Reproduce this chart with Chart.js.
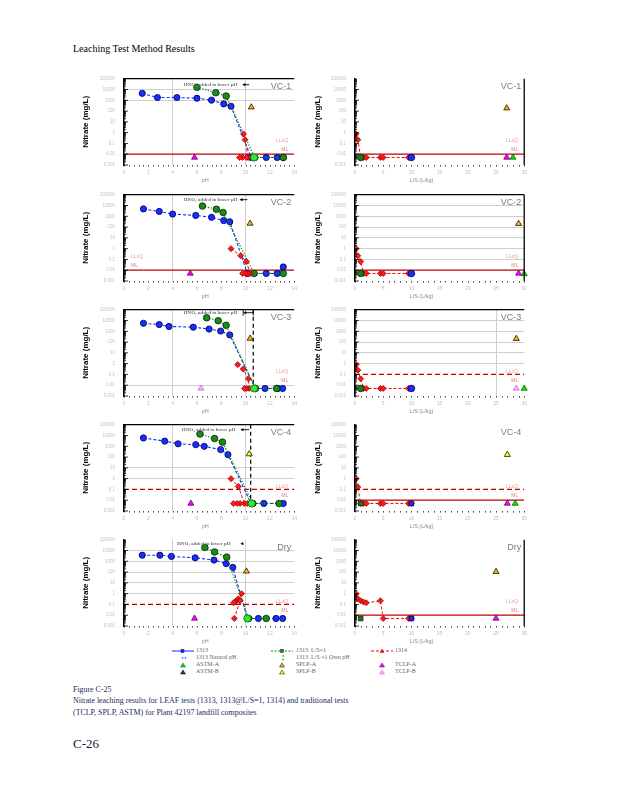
<!DOCTYPE html>
<html><head><meta charset="utf-8">
<script src="https://cdn.jsdelivr.net/npm/chart.js@4.4.1/dist/chart.umd.min.js"></script>
<style>
body{margin:0;background:#fff;width:618px;height:800px;position:relative;overflow:hidden;font-family:"Liberation Serif","Times New Roman",serif}
canvas{position:absolute}
.t{position:absolute;white-space:nowrap}
.lg{position:absolute;white-space:nowrap;font-size:6px;line-height:7px;color:#666}
.lm{position:absolute}
.cap{position:absolute;left:73px;white-space:nowrap;font-size:8.5px;line-height:11px;color:#1c2b5c;transform-origin:0 50%}
</style></head><body>
<div class="t" style="left:73px;top:43px;font-size:10px;color:#000">Leaching Test Method Results</div>

<!-- legend -->
<svg class="lm" style="left:172px;top:648px" width="22" height="6"><line x1="0" y1="3" x2="22" y2="3" stroke="#1030ff" stroke-width="1"/><rect x="9" y="1.5" width="3" height="3" fill="#1030ff" stroke="#000060" stroke-width="0.5"/></svg>
<div class="lg" style="left:196px;top:647px">1313</div>
<svg class="lm" style="left:271px;top:648px" width="22" height="6"><line x1="0" y1="3" x2="22" y2="3" stroke="#118811" stroke-width="1" stroke-dasharray="2,1.5"/><rect x="9.5" y="1.5" width="3" height="3" fill="#1a8a1a" stroke="#003000" stroke-width="0.5"/></svg>
<div class="lg" style="left:296px;top:647px">1313&nbsp; L/S=1</div>
<svg class="lm" style="left:371px;top:648px" width="22" height="6"><line x1="0" y1="3" x2="22" y2="3" stroke="#ff0000" stroke-width="1" stroke-dasharray="3,2"/><polygon points="11,1 13,4.5 9,4.5" fill="#ff1a1a" stroke="#900" stroke-width="0.4"/></svg>
<div class="lg" style="left:395px;top:647px">1314</div>

<svg class="lm" style="left:181px;top:655px" width="6" height="6"><circle cx="1.5" cy="3" r="0.8" fill="#1030ff"/><circle cx="4.5" cy="3" r="0.8" fill="#1030ff"/></svg>
<div class="lg" style="left:196px;top:654px">1313 Natural pH</div>
<svg class="lm" style="left:280px;top:654px" width="6" height="8"><circle cx="3" cy="2" r="0.8" fill="#118811"/><circle cx="3" cy="5.5" r="0.8" fill="#118811"/></svg>
<div class="lg" style="left:296px;top:654px">1313&nbsp; L/S =1 Own pH</div>

<svg class="lm" style="left:180px;top:662px" width="6" height="6"><polygon points="3,1 5.5,5 0.5,5" fill="#00e000" stroke="#063" stroke-width="0.5"/></svg>
<div class="lg" style="left:196px;top:661px">ASTM-A</div>
<svg class="lm" style="left:279px;top:662px" width="6" height="6"><polygon points="3,1 5.5,5 0.5,5" fill="#ffb000" stroke="#000" stroke-width="0.5"/></svg>
<div class="lg" style="left:296px;top:661px">SPLP-A</div>
<svg class="lm" style="left:379px;top:662px" width="6" height="6"><polygon points="3,1 5.5,5 0.5,5" fill="#ff00ff" stroke="#600060" stroke-width="0.5"/></svg>
<div class="lg" style="left:395px;top:661px">TCLP-A</div>

<svg class="lm" style="left:180px;top:669px" width="6" height="6"><polygon points="3,1 5.5,5 0.5,5" fill="#0a5a0a" stroke="#000" stroke-width="0.5"/></svg>
<div class="lg" style="left:196px;top:668px">ASTM-B</div>
<svg class="lm" style="left:279px;top:669px" width="6" height="6"><polygon points="3,1 5.5,5 0.5,5" fill="#ffff00" stroke="#000" stroke-width="0.5"/></svg>
<div class="lg" style="left:296px;top:668px">SPLP-B</div>
<svg class="lm" style="left:379px;top:669px" width="6" height="6"><polygon points="3,1 5.5,5 0.5,5" fill="#ffa0ff" stroke="#c070c0" stroke-width="0.5"/></svg>
<div class="lg" style="left:395px;top:668px">TCLP-B</div>

<div class="cap" id="cap1" style="top:684px">Figure C-25</div>
<div class="cap" id="cap2" style="top:695px">Nitrate leaching results for LEAF tests (1313, 1313@L/S=1, 1314) and traditional tests</div>
<div class="cap" id="cap3" style="top:707px">(TCLP, SPLP, ASTM) for Plant 42197 landfill composites</div>
<div class="t" style="left:73px;top:736px;font-size:13px;color:#121c40">C-26</div>

<script>
// ---------------- DATA ----------------
const panelNames = ['VC-1', 'VC-2', 'VC-3', 'VC-4', 'Dry'];
const pHTicks = [0, 2, 4, 6, 8, 10, 12, 14];
const lsTicks = [0, 5, 10, 15, 20, 25, 30];
const yTickValues = [0.001, 0.01, 0.1, 1, 10, 100, 1000, 10000, 100000];
const yTickLabels = ['0.001', '0.01', '0.1', '1', '10', '100', '1000', '10000', '100000'];
const ls1314 = [0.2, 0.5, 1, 1.5, 2, 4.5, 5, 9.5, 10];
const ownPH_vsLS = [1, 0.005];
const naturalPH_vsLS = [10, 0.005];

// VC-1
const vc1_1313_pH  = [1.5, 2.75, 4.35, 6.0, 7.2, 8.2, 8.8, 10.45, 11.7, 12.6, 13.1];
const vc1_1313_no3 = [4400, 1800, 1800, 1550, 1030, 460, 280, 0.005, 0.005, 0.005, 0.005];
const vc1_ls1_pH   = [6.0, 7.55, 8.4, 10.75, 13.1];
const vc1_ls1_no3  = [16000, 5000, 2500, 0.005, 0.005];
const vc1_1314_pH  = [9.83, 9.96, 10.2, 10.07, 9.75, 9.5];
const vc1_1314_no3 = [0.76, 0.22, 0.005, 0.005, 0.005, 0.005];
const vc1_1314_ls_no3 = [0.76, 0.22, 0.005, 0.005, 0.005, 0.005, 0.005, 0.005, 0.005];
const vc1_ownPH_vsPH = [10.7, 0.005];
const vc1_splpA_vsPH = [10.47, 228];
const vc1_tclpA_vsPH = [5.8, 0.005];
const vc1_splpA_vsLS = [26.9, 186];
const vc1_tclpA_vsLS = [26.9, 0.005];
const vc1_astmA_vsLS = [28.0, 0.005];

// VC-2
const vc2_1313_pH  = [1.6, 2.9, 4.0, 5.9, 7.2, 8.2, 8.7, 10.15, 11.7, 12.6, 13.1];
const vc2_1313_no3 = [4800, 2800, 1600, 1200, 800, 400, 310, 0.005, 0.005, 0.005, 0.02];
const vc2_ls1_pH   = [6.45, 7.6, 8.15, 10.7, 13.1];
const vc2_ls1_no3  = [8900, 4500, 2250, 0.005, 0.005];
const vc2_1314_pH  = [8.8, 9.6, 10.07, 10.37, 10.2, 10.0, 9.75];
const vc2_1314_no3 = [1.0, 0.22, 0.063, 0.005, 0.005, 0.005, 0.005];
const vc2_1314_ls_no3 = [1.0, 0.22, 0.063, 0.005, 0.005, 0.005, 0.005, 0.005, 0.005];
const vc2_splpA_vsPH = [10.37, 215];
const vc2_tclpA_vsPH = [5.45, 0.005];
const vc2_splpA_vsLS = [29.0, 203];
const vc2_tclpA_vsLS = [29.0, 0.005];
const vc2_astmA_vsLS = [30.0, 0.0045];

// VC-3
const vc3_1313_pH  = [1.6, 2.9, 3.7, 5.7, 7.0, 7.95, 8.7, 10.8, 11.6, 12.65, 13.05];
const vc3_1313_no3 = [5500, 4200, 2800, 2400, 1600, 1050, 460, 0.005, 0.005, 0.005, 0.005];
const vc3_ls1_pH   = [6.8, 7.75, 8.4, 10.8, 12.55];
const vc3_ls1_no3  = [17800, 9500, 3600, 0.005, 0.005];
const vc3_1314_pH  = [9.35, 9.8, 10.23, 10.3, 10.07, 9.9];
const vc3_1314_no3 = [0.81, 0.31, 0.039, 0.005, 0.005, 0.005];
const vc3_1314_ls_no3 = [0.81, 0.25, 0.039, 0.005, 0.005, 0.005, 0.005, 0.005, 0.005];
const vc3_ownPH_vsPH = [10.7, 0.005];
const vc3_splpA_vsPH = [10.37, 215];
const vc3_tclpB_vsPH = [6.33, 0.005];
const vc3_splpA_vsLS = [28.6, 203];
const vc3_tclpB_vsLS = [28.6, 0.005];
const vc3_astmA_vsLS = [30.0, 0.005];
const vc3_acidLimit_pH = 10.63;

// VC-4
const vc4_1313_pH  = [1.6, 3.35, 4.45, 5.9, 6.6, 7.95, 8.55, 10.45, 11.5, 13.1];
const vc4_1313_no3 = [5900, 3000, 1700, 1400, 990, 490, 165, 0.005, 0.005, 0.005];
const vc4_ls1_pH   = [6.25, 7.45, 8.1, 10.6, 12.75];
const vc4_ls1_no3  = [13600, 5200, 2400, 0.005, 0.005];
const vc4_1314_pH  = [8.8, 9.4, 9.9, 10.15, 9.55, 9.3, 9.0];
const vc4_1314_no3 = [1.0, 0.19, 0.005, 0.005, 0.005, 0.005, 0.005];
const vc4_1314_ls_no3 = [1.0, 0.17, 0.005, 0.005, 0.005, 0.005, 0.005, 0.005, 0.005];
const vc4_ownPH_vsPH = [10.5, 0.005];
const vc4_splpB_vsPH = [10.3, 190];
const vc4_tclpA_vsPH = [5.5, 0.005];
const vc4_splpB_vsLS = [27.0, 165];
const vc4_tclpA_vsLS = [27.0, 0.005];
const vc4_astmA_vsLS = [28.4, 0.005];
const vc4_acidLimit_pH = 10.42;

// Dry
const dry_1313_pH  = [1.5, 2.95, 3.9, 5.85, 7.4, 8.4, 8.95, 10.15, 11.05, 12.5, 13.05];
const dry_1313_no3 = [3650, 3650, 2800, 2100, 1300, 610, 270, 0.005, 0.005, 0.005, 0.005];
const dry_ls1_pH   = [6.65, 7.45, 8.45, 10.25, 11.7];
const dry_ls1_no3  = [19000, 7300, 2400, 0.005, 0.005];
const dry_1314_pH  = [9.67, 9.4, 9.25, 9.12, 9.02, 9.55, 9.07];
const dry_1314_no3 = [1.0, 0.33, 0.22, 0.17, 0.14, 0.22, 0.005];
const dry_1314_ls_no3 = [1.0, 0.33, 0.22, 0.17, 0.14, 0.22, 0.005, 0.005, 0.005];
const dry_ownPH_vsPH = [10.15, 0.005];
const dry_splpA_vsPH = [10.07, 117];
const dry_tclpA_vsPH = [5.8, 0.005];
const dry_splpA_vsLS = [25.0, 108];
const dry_tclpA_vsLS = [25.0, 0.005];

const LLOQ = 0.1, ML = 0.01;

// ---------------- STYLES ----------------
Chart.defaults.font.family = '"Liberation Sans", Arial, sans-serif';
Chart.defaults.animation = false;

const pts = (xs, ys) => xs.map((x, i) => ({x, y: ys[i]}));
const pt = a => [{x: a[0], y: a[1]}];

const ST = {
  b1313: {borderColor:'#1030ff', pointBackgroundColor:'#1a2cff', pointBorderColor:'#000050', pointBorderWidth:0.8, pointRadius:3.1, pointStyle:'circle', showLine:true, borderDash:[3,2], borderWidth:1.1},
  g1313: {borderColor:'#118811', pointBackgroundColor:'#1a8a1a', pointBorderColor:'#002800', pointBorderWidth:0.8, pointRadius:3.3, pointStyle:'circle', showLine:true, borderDash:[1.2,1.6], borderWidth:1.3},
  r1314: {borderColor:'#ff0000', pointBackgroundColor:'#ff1a1a', pointBorderColor:'#8a0000', pointBorderWidth:0.7, pointRadius:3, pointStyle:'rectRot', showLine:true, borderDash:[3,2], borderWidth:1},
  own:   {pointBackgroundColor:'#30e830', pointBorderColor:'#0a6a0a', pointBorderWidth:0.8, pointRadius:3.6, pointStyle:'circle', showLine:false, clip:false},
  ownR:  {pointBackgroundColor:'#1a7a1a', pointBorderColor:'#002800', pointBorderWidth:0.8, pointRadius:3.3, showLine:false, clip:false},
  nat:   {pointBackgroundColor:'#1a2cff', pointBorderColor:'#000050', pointBorderWidth:0.8, pointRadius:3.3, showLine:false, clip:false},
  splpA: {pointStyle:'triangle', pointBackgroundColor:'#ffb000', pointBorderColor:'#000', pointBorderWidth:0.7, pointRadius:3.5, showLine:false, clip:false},
  splpB: {pointStyle:'triangle', pointBackgroundColor:'#ffff00', pointBorderColor:'#000', pointBorderWidth:0.7, pointRadius:3.5, showLine:false, clip:false},
  tclpA: {pointStyle:'triangle', pointBackgroundColor:'#ff00ff', pointBorderColor:'#500050', pointBorderWidth:0.7, pointRadius:3.5, showLine:false, clip:false},
  tclpB: {pointStyle:'triangle', pointBackgroundColor:'#ffa8ff', pointBorderColor:'#c070c0', pointBorderWidth:0.7, pointRadius:3.5, showLine:false, clip:false},
  astmA: {pointStyle:'triangle', pointBackgroundColor:'#00ee00', pointBorderColor:'#005500', pointBorderWidth:0.7, pointRadius:3.5, showLine:false, clip:false}
};
const ds = (label, data, st, extra) => Object.assign({label, data}, st, extra || {});
const hline = (v, dashed, xmax) => ({label:'ref', data:[{x:0,y:v},{x:xmax,y:v}], borderColor:'#c00000', borderWidth:1.3, borderDash: dashed ? [5,3] : [], pointRadius:0, showLine:true});
const vline = (p) => ({label:'acid', data:[{x:p,y:0.003},{x:p,y:100000}], borderColor:'#000', borderWidth:1.2, borderDash:[4,3], pointRadius:0, showLine:true});

// ---------------- LAYOUT ----------------
const TOPS = [75, 191, 306, 421, 536];

function makeDeco(cfg) {
  return {
    id: 'deco',
    afterDraw(chart) {
      const {ctx, chartArea: a, scales: {x, y}} = chart;
      ctx.save();
      ctx.strokeStyle = '#000'; ctx.lineWidth = 0.8;
      for (let n = -3; n <= 4; n++) for (let k = 1; k <= 9; k++) {
        const py = y.getPixelForValue(k * Math.pow(10, n));
        if (py < a.top - 0.5 || py > a.bottom + 0.5) continue;
        const len = k === 1 ? 4 : 2;
        ctx.beginPath(); ctx.moveTo(a.left, py); ctx.lineTo(a.left + len, py); ctx.stroke();
      }
      ctx.strokeStyle = '#222';
      for (let v = x.min; v <= x.max + 1e-9; v += cfg.xMinor) {
        const px = Math.round(x.getPixelForValue(v)) + 0.5;
        ctx.beginPath(); ctx.moveTo(px, a.bottom); ctx.lineTo(px, a.bottom + 1.6); ctx.stroke();
      }
      ctx.strokeStyle = '#000'; ctx.lineWidth = 1.3;
      if (cfg.top) { ctx.beginPath(); ctx.moveTo(a.left, a.top); ctx.lineTo(a.right, a.top); ctx.stroke(); }
      if (cfg.right) { ctx.beginPath(); ctx.moveTo(a.right, a.top); ctx.lineTo(a.right, a.bottom); ctx.stroke(); }
      ctx.fillStyle = '#6f8091'; ctx.font = '9px "Liberation Sans", Arial';
      ctx.textAlign = 'right'; ctx.textBaseline = 'middle';
      ctx.fillText(cfg.name, a.right - 3, a.top + 8);
      ctx.fillStyle = '#8a8a8a'; ctx.font = '5.5px "Liberation Sans", Arial'; ctx.textAlign = 'center';
      ctx.fillText(cfg.xTitle, a.left + cfg.xTitleX * (a.right - a.left), a.bottom + 15.5);
      ctx.font = '5px "Liberation Sans", Arial';
      ctx.textAlign = cfg.labSide === 'left' ? 'left' : 'right';
      const lx = cfg.labSide === 'left' ? a.left + 7 : a.right - 6;
      ctx.fillStyle = '#f0a0a0'; ctx.fillText('LLoQ', lx, y.getPixelForValue(0.2));
      ctx.fillStyle = '#e27d7d'; ctx.fillText('ML', lx, y.getPixelForValue(0.025));
      if (cfg.hno) {
        const h = cfg.hno, yy = a.top + h.dy;
        ctx.fillStyle = '#707070'; ctx.font = 'bold 5px "Liberation Serif", serif'; ctx.textAlign = 'right';
        ctx.fillText('HNO\u2083 added to lower pH', x.getPixelForValue(h.end), yy);
        const pa = x.getPixelForValue(h.a), pb = x.getPixelForValue(h.b);
        ctx.strokeStyle = '#000'; ctx.fillStyle = '#000'; ctx.lineWidth = 0.9;
        ctx.beginPath(); ctx.moveTo(pa + 2, yy); ctx.lineTo(pb, yy); ctx.stroke();
        ctx.beginPath(); ctx.moveTo(pa, yy); ctx.lineTo(pa + 3, yy - 1.6); ctx.lineTo(pa + 3, yy + 1.6); ctx.closePath(); ctx.fill();
        if (h.bars) {
          ctx.beginPath(); ctx.moveTo(pa, yy - 3); ctx.lineTo(pa, yy + 3); ctx.moveTo(pb, yy - 3); ctx.lineTo(pb, yy + 3); ctx.stroke();
        }
      }
      ctx.restore();
    }
  };
}

function makeChart(side, idx, datasets, cfg, hGrid, vGrid) {
  const cv = document.createElement('canvas');
  const left = side === 'L' ? 80 : 312;
  const yW = side === 'L' ? 44 : 43;
  const W = side === 'L' ? 222 : 220;
  cv.width = W; cv.height = 120;
  cv.style.left = left + 'px'; cv.style.top = (TOPS[idx] - 8) + 'px';
  cv.style.width = W + 'px'; cv.style.height = '120px';
  document.body.appendChild(cv);
  const isPH = side === 'L';
  const xT = isPH ? pHTicks : lsTicks;
  new Chart(cv, {
    type: 'scatter',
    data: {datasets},
    plugins: [makeDeco(cfg)],
    options: {
      responsive: false, events: [],
      layout: {padding: {top: 8, right: 4, left: 0, bottom: 0}},
      plugins: {legend: {display: false}, tooltip: {enabled: false}},
      scales: {
        x: {
          type: 'linear', min: xT[0], max: xT[xT.length - 1],
          afterBuildTicks: s => { s.ticks = xT.map(v => ({value: v})); },
          afterFit: s => { s.height = 22; },
          ticks: {font: {size: 5}, color: '#bdbdbd', padding: 5, maxRotation: 0, autoSkip: false, callback: (v, i) => String(xT[i])},
          grid: {drawTicks: false, lineWidth: 1, color: c => (c.tick && vGrid.includes(c.tick.value)) ? '#cfcfcf' : 'rgba(0,0,0,0)'},
          border: {display: false}
        },
        y: {
          type: 'logarithmic', min: 0.001, max: 100000,
          afterBuildTicks: s => { s.ticks = yTickValues.map(v => ({value: v})); },
          afterFit: s => { s.width = yW; },
          ticks: {font: {size: 4.5}, color: '#c2c2c2', padding: 9, autoSkip: false, callback: (v, i) => yTickLabels[i]},
          grid: {drawTicks: false, lineWidth: 1, color: c => (c.tick && hGrid.includes(Math.round(Math.log10(c.tick.value)))) ? '#cfcfcf' : 'rgba(0,0,0,0)'},
          border: {display: true, color: '#000', width: 1.6},
          title: {display: true, text: 'Nitrate (mg/L)', color: '#000', font: {size: 8, weight: 'bold'}, padding: {top: 1, bottom: 0}}
        }
      }
    }
  });
}

const lCfg = (i, extra) => Object.assign({name: panelNames[i], xMinor: 0.4, xTitle: 'pH', xTitleX: 0.477, top: true, right: false}, extra || {});
const rCfg = (i, extra) => Object.assign({name: panelNames[i], xMinor: 1, xTitle: 'L/S (L/kg)', xTitleX: 0.393, top: false, right: false}, extra || {});

// ---- VC-1 ----
makeChart('L', 0, [
  ds('1313 L/S=1 Own pH', pt(vc1_ownPH_vsPH), ST.own),
  ds('SPLP-A', pt(vc1_splpA_vsPH), ST.splpA),
  ds('TCLP-A', pt(vc1_tclpA_vsPH), ST.tclpA),
  ds('1314', pts(vc1_1314_pH, vc1_1314_no3), ST.r1314),
  ds('1313 L/S=1', pts(vc1_ls1_pH, vc1_ls1_no3), ST.g1313),
  ds('1313', pts(vc1_1313_pH, vc1_1313_no3), ST.b1313),
  hline(ML, false, 14)
], lCfg(0, {hno: {end: 9.33, a: 9.73, b: 10.3, dy: 6}}), [4, 3], [4, 10]);
makeChart('R', 0, [
  ds('SPLP-A', pt(vc1_splpA_vsLS), ST.splpA),
  ds('TCLP-A', pt(vc1_tclpA_vsLS), ST.tclpA),
  ds('ASTM-A', pt(vc1_astmA_vsLS), ST.astmA),
  ds('1313 Natural pH', pt(naturalPH_vsLS), ST.nat),
  ds('1313 L/S=1 Own pH', pt(ownPH_vsLS), ST.ownR),
  ds('1314', pts(ls1314, vc1_1314_ls_no3), ST.r1314),
  hline(ML, false, 30)
], rCfg(0, {right: true}), [], []);

// ---- VC-2 ----
makeChart('L', 1, [
  ds('SPLP-A', pt(vc2_splpA_vsPH), ST.splpA),
  ds('TCLP-A', pt(vc2_tclpA_vsPH), ST.tclpA),
  ds('1314', pts(vc2_1314_pH, vc2_1314_no3), ST.r1314),
  ds('1313 L/S=1', pts(vc2_ls1_pH, vc2_ls1_no3), ST.g1313),
  ds('1313', pts(vc2_1313_pH, vc2_1313_no3), ST.b1313),
  hline(ML, false, 14)
], lCfg(1, {labSide: 'left', hno: {end: 9.33, a: 9.5, b: 10.15, dy: 5}}), [], [4, 10]);
makeChart('R', 1, [
  ds('SPLP-A', pt(vc2_splpA_vsLS), ST.splpA),
  ds('TCLP-A', pt(vc2_tclpA_vsLS), ST.tclpA),
  ds('ASTM-A', pt(vc2_astmA_vsLS), ST.astmA),
  ds('1313 Natural pH', pt(naturalPH_vsLS), ST.nat),
  ds('1313 L/S=1 Own pH', pt(ownPH_vsLS), ST.ownR),
  ds('1314', pts(ls1314, vc2_1314_ls_no3), ST.r1314),
  hline(ML, false, 30)
], rCfg(1, {top: true, right: true}), [4, 3, 2, 1, 0, -1], []);

// ---- VC-3 ----
makeChart('L', 2, [
  ds('1313 L/S=1 Own pH', pt(vc3_ownPH_vsPH), ST.own),
  ds('SPLP-A', pt(vc3_splpA_vsPH), ST.splpA),
  ds('TCLP-B', pt(vc3_tclpB_vsPH), ST.tclpB),
  ds('1314', pts(vc3_1314_pH, vc3_1314_no3), ST.r1314),
  ds('1313 L/S=1', pts(vc3_ls1_pH, vc3_ls1_no3), ST.g1313),
  ds('1313', pts(vc3_1313_pH, vc3_1313_no3), ST.b1313),
  vline(vc3_acidLimit_pH)
], lCfg(2, {hno: {end: 9.33, a: 9.8, b: 10.63, dy: 3, bars: true}}), [-2], [4, 10]);
makeChart('R', 2, [
  ds('SPLP-A', pt(vc3_splpA_vsLS), ST.splpA),
  ds('TCLP-B', pt(vc3_tclpB_vsLS), ST.tclpB),
  ds('ASTM-A', pt(vc3_astmA_vsLS), ST.astmA),
  ds('1313 Natural pH', pt(naturalPH_vsLS), ST.nat),
  ds('1313 L/S=1 Own pH', pt(ownPH_vsLS), ST.ownR),
  ds('1314', pts(ls1314, vc3_1314_ls_no3), ST.r1314),
  hline(LLOQ, true, 30)
], rCfg(2, {top: true}), [4, 3, 2, 1, 0], [25]);

// ---- VC-4 ----
makeChart('L', 3, [
  ds('1313 L/S=1 Own pH', pt(vc4_ownPH_vsPH), ST.own),
  ds('SPLP-B', pt(vc4_splpB_vsPH), ST.splpB),
  ds('TCLP-A', pt(vc4_tclpA_vsPH), ST.tclpA),
  ds('1314', pts(vc4_1314_pH, vc4_1314_no3), ST.r1314),
  ds('1313 L/S=1', pts(vc4_ls1_pH, vc4_ls1_no3), ST.g1313),
  ds('1313', pts(vc4_1313_pH, vc4_1313_no3), ST.b1313),
  vline(vc4_acidLimit_pH),
  hline(LLOQ, true, 14)
], lCfg(3, {hno: {end: 9.17, a: 9.57, b: 10.3, dy: 5}}), [1, 0], [4, 10]);
makeChart('R', 3, [
  ds('SPLP-B', pt(vc4_splpB_vsLS), ST.splpB),
  ds('TCLP-A', pt(vc4_tclpA_vsLS), ST.tclpA),
  ds('ASTM-A', pt(vc4_astmA_vsLS), ST.astmA),
  ds('1313 Natural pH', pt(naturalPH_vsLS), Object.assign({}, ST.nat, {pointStyle: 'rect'})),
  ds('1313 L/S=1 Own pH', pt(ownPH_vsLS), Object.assign({}, ST.ownR, {pointStyle: 'rect'})),
  ds('1314', pts(ls1314, vc4_1314_ls_no3), ST.r1314),
  hline(LLOQ, true, 30),
  hline(ML, false, 30)
], rCfg(3), [], []);

// ---- Dry ----
makeChart('L', 4, [
  ds('1313 L/S=1 Own pH', pt(dry_ownPH_vsPH), ST.own),
  ds('SPLP-A', pt(dry_splpA_vsPH), ST.splpA),
  ds('TCLP-A', pt(dry_tclpA_vsPH), ST.tclpA),
  ds('1314', pts(dry_1314_pH, dry_1314_no3), ST.r1314),
  ds('1313 L/S=1', pts(dry_ls1_pH, dry_ls1_no3), ST.g1313),
  ds('1313', pts(dry_1313_pH, dry_1313_no3), ST.b1313),
  hline(LLOQ, true, 14)
], lCfg(4, {top: false, hno: {end: 8.77, a: 9.57, b: 9.75, dy: 4}}), [4, 3, 2, 1, 0], [4, 10]);
makeChart('R', 4, [
  ds('SPLP-A', pt(dry_splpA_vsLS), ST.splpA),
  ds('TCLP-A', pt(dry_tclpA_vsLS), ST.tclpA),
  ds('1313 Natural pH', pt(naturalPH_vsLS), Object.assign({}, ST.nat, {pointStyle: 'rect'})),
  ds('1313 L/S=1 Own pH', pt(ownPH_vsLS), Object.assign({}, ST.ownR, {pointStyle: 'rect'})),
  ds('1314', pts(ls1314, dry_1314_ls_no3), ST.r1314),
  hline(ML, false, 30)
], rCfg(4, {right: true}), [], []);

// caption width fit
const c2 = document.getElementById('cap2');
const k = 276 / c2.offsetWidth;
['cap1', 'cap2', 'cap3'].forEach(id => { document.getElementById(id).style.transform = 'scaleX(' + k + ')'; });
</script>
</body></html>
